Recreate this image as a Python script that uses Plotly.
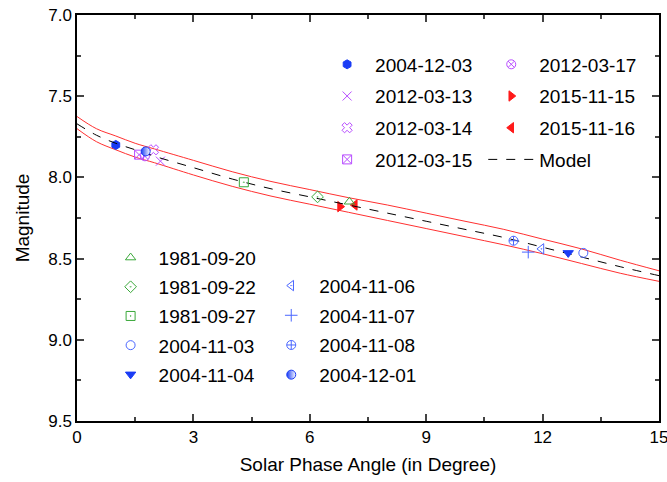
import plotly.graph_objects as go

# ---- data ----
model_x = [0, 0.5, 1, 1.5, 2, 3, 4, 5, 6, 7, 8, 9, 10, 11, 12, 13, 14, 15]
model_y = [7.67, 7.74, 7.79, 7.83, 7.87, 7.94, 8.01, 8.07, 8.12, 8.17, 8.22, 8.27, 8.32, 8.37, 8.43, 8.49, 8.55, 8.605]
upper_y = [7.625, 7.70, 7.745, 7.79, 7.825, 7.895, 7.965, 8.025, 8.075, 8.125, 8.17, 8.22, 8.27, 8.32, 8.38, 8.44, 8.51, 8.575]
lower_y = [7.70, 7.78, 7.83, 7.875, 7.91, 7.985, 8.055, 8.115, 8.165, 8.215, 8.265, 8.315, 8.365, 8.415, 8.47, 8.53, 8.59, 8.64]

dates = ["2004-12-03", "2012-03-13", "2012-03-14", "2012-03-15",
         "2012-03-17", "2015-11-15", "2015-11-16",
         "1981-09-20", "1981-09-22", "1981-09-27", "2004-11-03", "2004-11-04",
         "2004-11-06", "2004-11-07", "2004-11-08", "2004-12-01"]
phase = [1.0, 2.15, 1.97, 1.6, 1.75, 6.78, 7.16,
         7.02, 6.2, 4.3, 13.05, 12.66,
         11.97, 11.63, 11.25, 1.77]
mag = [7.80, 7.90, 7.83, 7.86, 7.87, 8.18, 8.17,
       8.15, 8.12, 8.03, 8.465, 8.465,
       8.44, 8.46, 8.39, 7.84]

x_ticks = [0, 3, 6, 9, 12, 15]
y_ticks = [7.0, 7.5, 8.0, 8.5, 9.0, 9.5]

# ---- styles ----
BLUE = "#1a3cf5"
LBLUE = "#4a66ff"
PURP = "#b84dff"
GREEN = "#3aa83a"
RED = "#ff1a1a"
style = {
    "2004-12-03": ("hexagon", BLUE, "legend"),
    "2012-03-13": ("x-thin-open", PURP, "legend"),
    "2012-03-14": ("x-open", PURP, "legend"),
    "2012-03-15": ("square-x-open", PURP, "legend"),
    "2012-03-17": ("circle-x-open", PURP, "legend2"),
    "2015-11-15": ("triangle-right", RED, "legend2"),
    "2015-11-16": ("triangle-left", RED, "legend2"),
    "1981-09-20": ("triangle-up-open", GREEN, "legend3"),
    "1981-09-22": ("diamond-open-dot", GREEN, "legend3"),
    "1981-09-27": ("square-open-dot", GREEN, "legend3"),
    "2004-11-03": ("circle-open", LBLUE, "legend3"),
    "2004-11-04": ("triangle-down", BLUE, "legend3"),
    "2004-11-06": ("triangle-left-open-dot", LBLUE, "legend4"),
    "2004-11-07": ("cross-thin-open", LBLUE, "legend4"),
    "2004-11-08": ("circle-cross-open", LBLUE, "legend4"),
    "2004-12-01": ("circle", BLUE, "legend4"),
}

fig = go.Figure()

# band and model
fig.add_trace(go.Scatter(x=model_x, y=upper_y, mode="lines", line=dict(color="#ff3030", width=1, shape="spline"),
                         showlegend=False, hoverinfo="skip"))
fig.add_trace(go.Scatter(x=model_x, y=lower_y, mode="lines", line=dict(color="#ff3030", width=1, shape="spline"),
                         showlegend=False, hoverinfo="skip"))

order = ["2004-12-03", "2012-03-13", "2012-03-14", "2012-03-15",
         "2012-03-17", "2015-11-15", "2015-11-16", "MODEL",
         "1981-09-20", "1981-09-22", "1981-09-27", "2004-11-03", "2004-11-04",
         "2004-11-06", "2004-11-07", "2004-11-08", "2004-12-01"]

for i, name in enumerate(order):
    if name == "MODEL":
        fig.add_trace(go.Scatter(x=model_x, y=model_y, mode="lines", name="Model",
                                 line=dict(color="black", width=1, dash="dash", shape="spline"),
                                 legend="legend2", legendgroup="g%d" % i))
        continue
    k = dates.index(name)
    sym, col, leg = style[name]
    marker = dict(symbol=sym, color=col, size=9, line=dict(color=col, width=1))
    if name == "2004-12-01":
        marker = dict(symbol="circle", color=col, size=9, line=dict(color=col, width=1),
                      gradient=dict(type="horizontal", color="white"))
    fig.add_trace(go.Scatter(x=[phase[k]], y=[mag[k]], mode="markers", name=name,
                             marker=marker, legend=leg, legendgroup="g%d" % i))

FONT = "Arial, Liberation Sans, sans-serif"
leg_common = dict(bgcolor="rgba(0,0,0,0)", font=dict(family=FONT, size=19, color="black"),
                  xanchor="left", yanchor="top", itemwidth=46)

fig.update_layout(
    width=667, height=482,
    margin=dict(l=77, r=8, t=15, b=61, autoexpand=False),
    paper_bgcolor="white", plot_bgcolor="white",
    font=dict(family=FONT, size=17, color="black"),
    legend=dict(x=0.416, y=0.925, tracegroupgap=4, **leg_common),
    legend2=dict(x=0.698, y=0.925, tracegroupgap=4, **leg_common),
    legend3=dict(x=0.044, y=0.449, tracegroupgap=1.5, **leg_common),
    legend4=dict(x=0.32, y=0.38, tracegroupgap=2, **leg_common),
    xaxis=dict(range=[0, 15], tickvals=x_ticks, ticktext=[str(v) for v in x_ticks],
               showline=True, linecolor="black", linewidth=1.5, mirror="allticks",
               ticks="inside", ticklen=7, tickwidth=1.5, showgrid=False, zeroline=False,
               ticklabeloverflow="allow",
               minor=dict(ticks="inside", ticklen=4, tickwidth=1.5, dtick=1.5, tick0=0, showgrid=False),
               title=dict(text="Solar Phase Angle (in Degree)", font=dict(size=19), standoff=12),
               tickfont=dict(size=17)),
    yaxis=dict(range=[9.5, 7.0], tickvals=y_ticks, ticktext=["%.1f" % v for v in y_ticks],
               showline=True, linecolor="black", linewidth=1.5, mirror="allticks",
               ticks="inside", ticklen=7, tickwidth=1.5, showgrid=False, zeroline=False,
               ticklabeloverflow="allow",
               minor=dict(ticks="inside", ticklen=4, tickwidth=1.5, dtick=0.25, tick0=7.0, showgrid=False),
               title=dict(text="Magnitude", font=dict(size=19), standoff=14),
               tickfont=dict(size=17)),
)

fig.write_html("out.html")
